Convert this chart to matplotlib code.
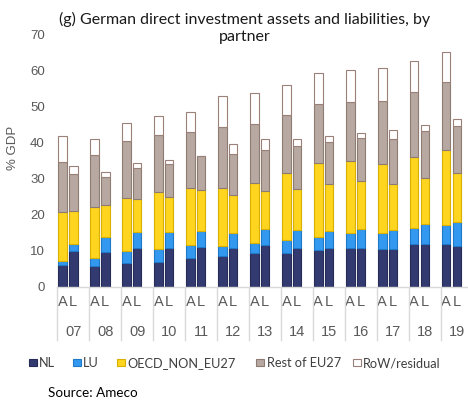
import matplotlib
matplotlib.use("Agg")
import matplotlib.pyplot as plt
from matplotlib.patches import Rectangle
import numpy as np

years = ["07", "08", "09", "10", "11", "12", "13", "14", "15", "16", "17", "18", "19"]
series = ["NL", "LU", "OECD_NON_EU27", "Rest of EU27", "RoW/residual"]

# Assets (A)
a_nl   = [6.0, 5.7, 6.7, 7.0, 8.0, 8.5, 9.3, 9.4, 10.3, 10.8, 10.6, 11.9, 11.9]
a_lu   = [1.2, 2.4, 3.2, 3.4, 3.5, 2.8, 2.8, 3.6, 3.5, 4.0, 4.4, 4.5, 5.3]
a_oecd = [13.6, 14.1, 14.8, 15.8, 16.0, 16.2, 16.6, 18.7, 20.5, 20.2, 19.0, 19.5, 20.9]
a_rest = [13.8, 14.4, 15.7, 16.0, 15.6, 16.8, 16.4, 16.0, 16.4, 16.3, 17.5, 18.1, 18.7]
a_row  = [7.2, 4.4, 5.0, 5.3, 5.4, 8.8, 8.8, 8.3, 8.6, 8.8, 9.3, 8.6, 8.5]

# Liabilities (L)
l_nl   = [10.0, 9.6, 10.8, 10.8, 10.9, 10.7, 11.5, 10.7, 10.8, 10.8, 10.6, 11.9, 11.4]
l_lu   = [2.0, 4.2, 4.4, 4.4, 4.5, 4.1, 4.5, 5.0, 4.8, 5.3, 5.2, 5.5, 6.7]
l_oecd = [9.0, 9.0, 9.2, 9.6, 11.4, 10.8, 10.7, 11.5, 12.9, 13.3, 12.6, 12.7, 13.5]
l_rest = [10.3, 7.8, 8.7, 9.2, 9.4, 11.2, 11.4, 11.8, 11.8, 11.9, 12.5, 13.1, 13.1]
l_row  = [2.3, 1.3, 1.2, 1.2, 0.2, 2.9, 2.9, 2.1, 1.7, 1.4, 2.6, 1.8, 1.8]

face = ["#323A70", "#3399F0", "#FFD520", "#B7A9A1", "#FFFFFF"]
edge = ["#262C58", "#1F78C8", "#D9B000", "#8E7B72", "#9A8078"]

W, H = 468, 403
fig = plt.figure(figsize=(W / 100, H / 100), dpi=100)
x0, x1 = 57.3, 472.8
y0, y1 = 286.7, 34.7
ax = fig.add_axes([x0 / W, 1 - y0 / H, (x1 - x0) / W, (y0 - y1) / H])

n = len(years)
xa = np.arange(n) * 3
xl = xa + 1
A = [a_nl, a_lu, a_oecd, a_rest, a_row]
L = [l_nl, l_lu, l_oecd, l_rest, l_row]
bw = 0.8
for xs, data in ((xa, A), (xl, L)):
    bottom = np.zeros(n)
    for i, vals in enumerate(data):
        v = np.array(vals)
        ax.bar(xs, v, bw, bottom=bottom, color=face[i], edgecolor=edge[i], linewidth=0.8, zorder=2)
        bottom += v

ax.set_xlim(-0.5, 3 * n - 0.5)
ax.set_ylim(0, 70)
ax.set_yticks(range(0, 71, 10))
for s in ["top", "right", "left"]:
    ax.spines[s].set_visible(False)
ax.spines["bottom"].set_color("#D9D9D9")
ax.spines["bottom"].set_linewidth(1)
ax.tick_params(axis="y", length=0, pad=9, labelsize=9.5, labelcolor="#595959")
ax.tick_params(axis="x", length=0, pad=6, labelsize=10.5, labelcolor="#595959")
for lab in ax.get_yticklabels():
    lab.set_fontfamily("Liberation Sans")

pos = np.concatenate([xa, xl])
labs = ["A"] * n + ["L"] * n
order = np.argsort(pos)
ax.set_xticks(pos[order])
ax.set_xticklabels([labs[i] for i in order], fontfamily="Liberation Sans")

tr = matplotlib.transforms.blended_transform_factory(ax.transData, ax.transAxes)
for g, y in enumerate(years):
    ax.text(xa[g] + 1, -45 / 252, y, transform=tr, ha="center", va="center",
            fontsize=10.5, color="#595959", fontfamily="Liberation Sans")
for g in range(n + 1):
    xs = 3 * g - 0.5
    ax.plot([xs, xs], [0, -53 / 252], transform=tr, color="#D9D9D9", lw=1, clip_on=False)

fig.text(245 / W, 1 - 28 / H, "(g) German direct investment assets and liabilities, by\npartner",
         ha="center", va="center", fontsize=11.5, fontfamily="Lato", color="#1A1A1A", linespacing=1.3)
fig.text(13 / W, 1 - 148 / H, "% GDP", rotation=90, ha="center", va="center",
         fontsize=9.5, color="#595959", fontfamily="Liberation Sans")

# legend, placed entry by entry
mk_x = [29, 73.3, 117.3, 256, 353.3]
tx_x = [38.5, 82.7, 127.3, 266.7, 362.7]
ly = 362.3
ms = 7.5
for i in range(5):
    fig.patches.append(Rectangle(((mk_x[i]) / W, 1 - (ly + ms / 2) / H), ms / W, ms / H,
                                 transform=fig.transFigure, facecolor=face[i],
                                 edgecolor=edge[i], linewidth=0.8))
    fig.text(tx_x[i] / W, 1 - ly / H, series[i], ha="left", va="center_baseline",
             fontsize=9.2, fontfamily="Lato", color="#404040")

fig.text(48 / W, 1 - 393 / H, "Source: Ameco", ha="left", va="center", fontsize=9.7,
         fontfamily="Lato", color="#000000")

fig.savefig("out.png", dpi=100)
